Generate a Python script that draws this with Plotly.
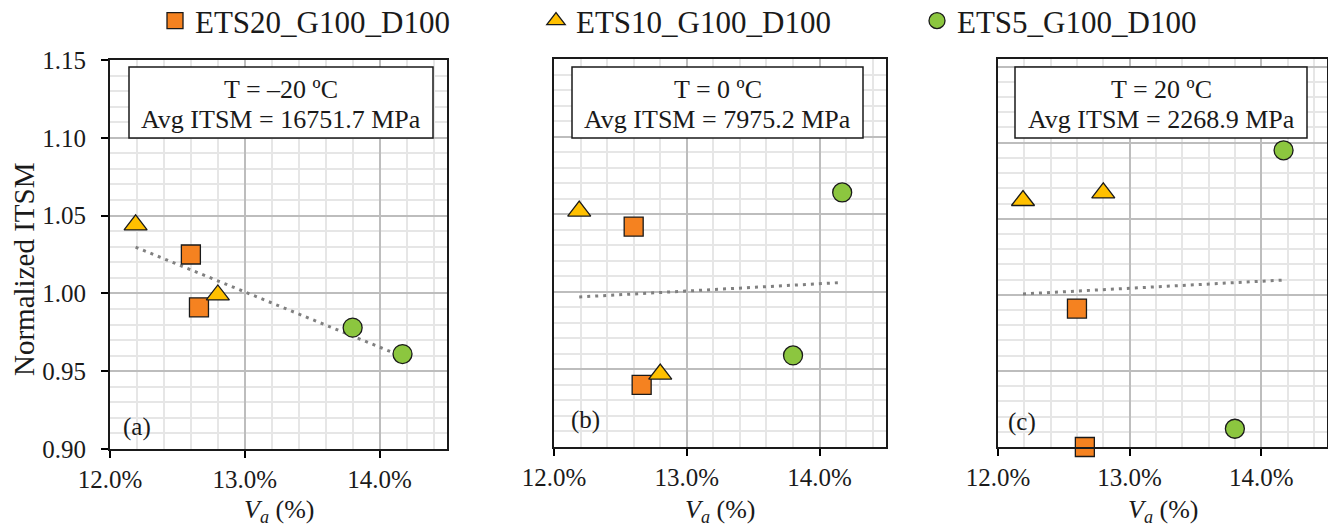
import numpy as np
import plotly.graph_objects as go

# Air voids (Va, %) of the two specimens in each mixture
va_ets20 = [12.60, 12.66]
va_ets10 = [12.19, 12.80]
va_ets5 = [13.80, 14.17]

# Normalized ITSM at T = -20 °C
ets20_m20 = [1.025, 0.991]
ets10_m20 = [1.044, 0.999]
ets5_m20 = [0.978, 0.961]

# Normalized ITSM at T = 0 °C
ets20_0 = [1.042, 0.940]
ets10_0 = [1.052, 0.947]
ets5_0 = [0.959, 1.064]

# Normalized ITSM at T = 20 °C
ets20_p20 = [0.991, 0.900]
ets10_p20 = [1.062, 1.067]
ets5_p20 = [0.912, 1.095]

series_names = ["ETS20_G100_D100", "ETS10_G100_D100", "ETS5_G100_D100"]
temperatures = ["–20", "0", "20"]
avg_itsm = ["16751.7", "7975.2", "2268.9"]
panel_tags = ["(a)", "(b)", "(c)"]
x_ticks = [12.0, 13.0, 14.0]
y_ticks = [0.90, 0.95, 1.00, 1.05, 1.10, 1.15]

W, H = 1328, 530
FONT = "Liberation Serif, Times New Roman, serif"
INK = "#1a1a1a"
COLORS = ["#F58220", "#FFC000", "#8CC63F"]
SYMBOLS = ["square", "triangle-up", "circle"]
SIZES = [19, 20, 19]


def px(x):
    return x / W


def py(y):
    return 1 - y / H


# plot-area boxes in pixels: left, right, top, bottom
boxes = [(110, 447, 60, 449), (554, 886, 59, 447), (998, 1327, 59, 447)]
y_ranges = [[0.90, 1.15], [0.90, 1.15], [0.90, 1.155]]
# info boxes in pixels: left, right
info_boxes = [(129, 433), (572, 863), (1015, 1307)]
tag_pos = [(121, 427), (569, 420), (1006, 422)]

panels = [
    [ets20_m20, ets10_m20, ets5_m20],
    [ets20_0, ets10_0, ets5_0],
    [ets20_p20, ets10_p20, ets5_p20],
]
va_sets = [va_ets20, va_ets10, va_ets5]

fig = go.Figure()
annotations = []
shapes = []

for i, (vals, box) in enumerate(zip(panels, boxes)):
    xa = "x" if i == 0 else f"x{i+1}"
    ya = "y" if i == 0 else f"y{i+1}"

    # linear trend through all six specimens
    all_x = np.concatenate(va_sets)
    all_y = np.concatenate(vals)
    k, b = np.polyfit(all_x, all_y, 1)
    tx = np.array([all_x.min(), all_x.max()])
    fig.add_trace(go.Scatter(
        x=tx, y=k * tx + b, mode="lines", xaxis=xa, yaxis=ya,
        line=dict(color="#808080", width=3, dash="3px,5px"),
        showlegend=False, hoverinfo="skip"))

    for j in range(3):
        fig.add_trace(go.Scatter(
            x=va_sets[j], y=vals[j], mode="markers", xaxis=xa, yaxis=ya,
            name=series_names[j], showlegend=(i == 0), cliponaxis=False,
            marker=dict(symbol=SYMBOLS[j], size=SIZES[j], color=COLORS[j],
                        line=dict(color=INK, width=1.3))))

    l, r, t, btm = box
    common_x = dict(
        domain=[px(l), px(r)], range=[12.0, 14.5], anchor=ya,
        tickvals=x_ticks, ticktext=[f"{v:.1f}%" for v in x_ticks],
        ticks="outside", ticklen=7, tickwidth=1.5, tickcolor="#000000",
        ticklabelstandoff=0,
        showline=True, mirror=True, linecolor=INK, linewidth=2,
        showgrid=True, gridcolor="#bdbdbd", gridwidth=1.5,
        minor=dict(dtick=0.2, tick0=12.0, showgrid=True, gridcolor="#e6e6e6",
                   gridwidth=1.5, ticks=""),
        zeroline=False, fixedrange=True,
        tickfont=dict(family=FONT, size=25, color=INK))
    common_y = dict(
        domain=[py(btm), py(t)], range=y_ranges[i], anchor=xa,
        tickvals=y_ticks,
        showline=True, mirror=True, linecolor=INK, linewidth=2,
        showgrid=True, gridcolor="#bdbdbd", gridwidth=1.5,
        minor=dict(dtick=0.01, tick0=0.90, showgrid=True, gridcolor="#e6e6e6",
                   gridwidth=1.5, ticks=""),
        zeroline=False, fixedrange=True,
        tickfont=dict(family=FONT, size=25, color=INK))
    if i == 0:
        common_y.update(ticktext=[f"{v:.2f}" for v in y_ticks], ticks="outside",
                        ticklen=7, tickwidth=1.5, tickcolor="#000000",
                        ticklabelstandoff=10)
    else:
        common_y.update(showticklabels=False, ticks="")

    fig.update_layout(**{
        ("xaxis" if i == 0 else f"xaxis{i+1}"): common_x,
        ("yaxis" if i == 0 else f"yaxis{i+1}"): common_y,
    })

    # framed info box with test temperature and mean stiffness
    bl, br = info_boxes[i]
    shapes.append(dict(
        type="rect", xref="paper", yref="paper", layer="above",
        x0=px(bl), x1=px(br), y0=py(138), y1=py(67),
        fillcolor="#ffffff", line=dict(color=INK, width=1.5)))
    for line_text, ly in ((f"T = {temperatures[i]} ºC", 90),
                          (f"Avg ITSM = {avg_itsm[i]} MPa", 120)):
        annotations.append(dict(
            xref="paper", yref="paper", x=px((bl + br) / 2), y=py(ly),
            xanchor="center", yanchor="middle", showarrow=False,
            text=line_text, font=dict(family=FONT, size=26, color=INK)))

    tx_, ty_ = tag_pos[i]
    annotations.append(dict(
        xref="paper", yref="paper", x=px(tx_), y=py(ty_),
        xanchor="left", yanchor="middle", showarrow=False,
        text=panel_tags[i], font=dict(family=FONT, size=25, color=INK)))

    annotations.append(dict(
        xref="paper", yref="paper", x=px((l + r) / 2), y=py(529),
        xanchor="center", yanchor="bottom", showarrow=False,
        text="<i>V</i><sub><i>a</i></sub> (%)",
        font=dict(family=FONT, size=26, color=INK)))

annotations.append(dict(
    xref="paper", yref="paper", x=px(24), y=py(270),
    xanchor="center", yanchor="middle", showarrow=False, textangle=-90,
    text="Normalized ITSM", font=dict(family=FONT, size=29, color=INK)))

fig.update_layout(
    width=W, height=H,
    margin=dict(l=0, r=0, t=0, b=0, autoexpand=False),
    paper_bgcolor="#ffffff", plot_bgcolor="#ffffff",
    annotations=annotations, shapes=shapes,
    legend=dict(orientation="h", x=px(155), xanchor="left", y=py(21),
                yanchor="middle", entrywidth=336, entrywidthmode="pixels",
                font=dict(family=FONT, size=31, color=INK),
                itemsizing="trace", bgcolor="rgba(0,0,0,0)"),
)

fig.write_html("out.html")
